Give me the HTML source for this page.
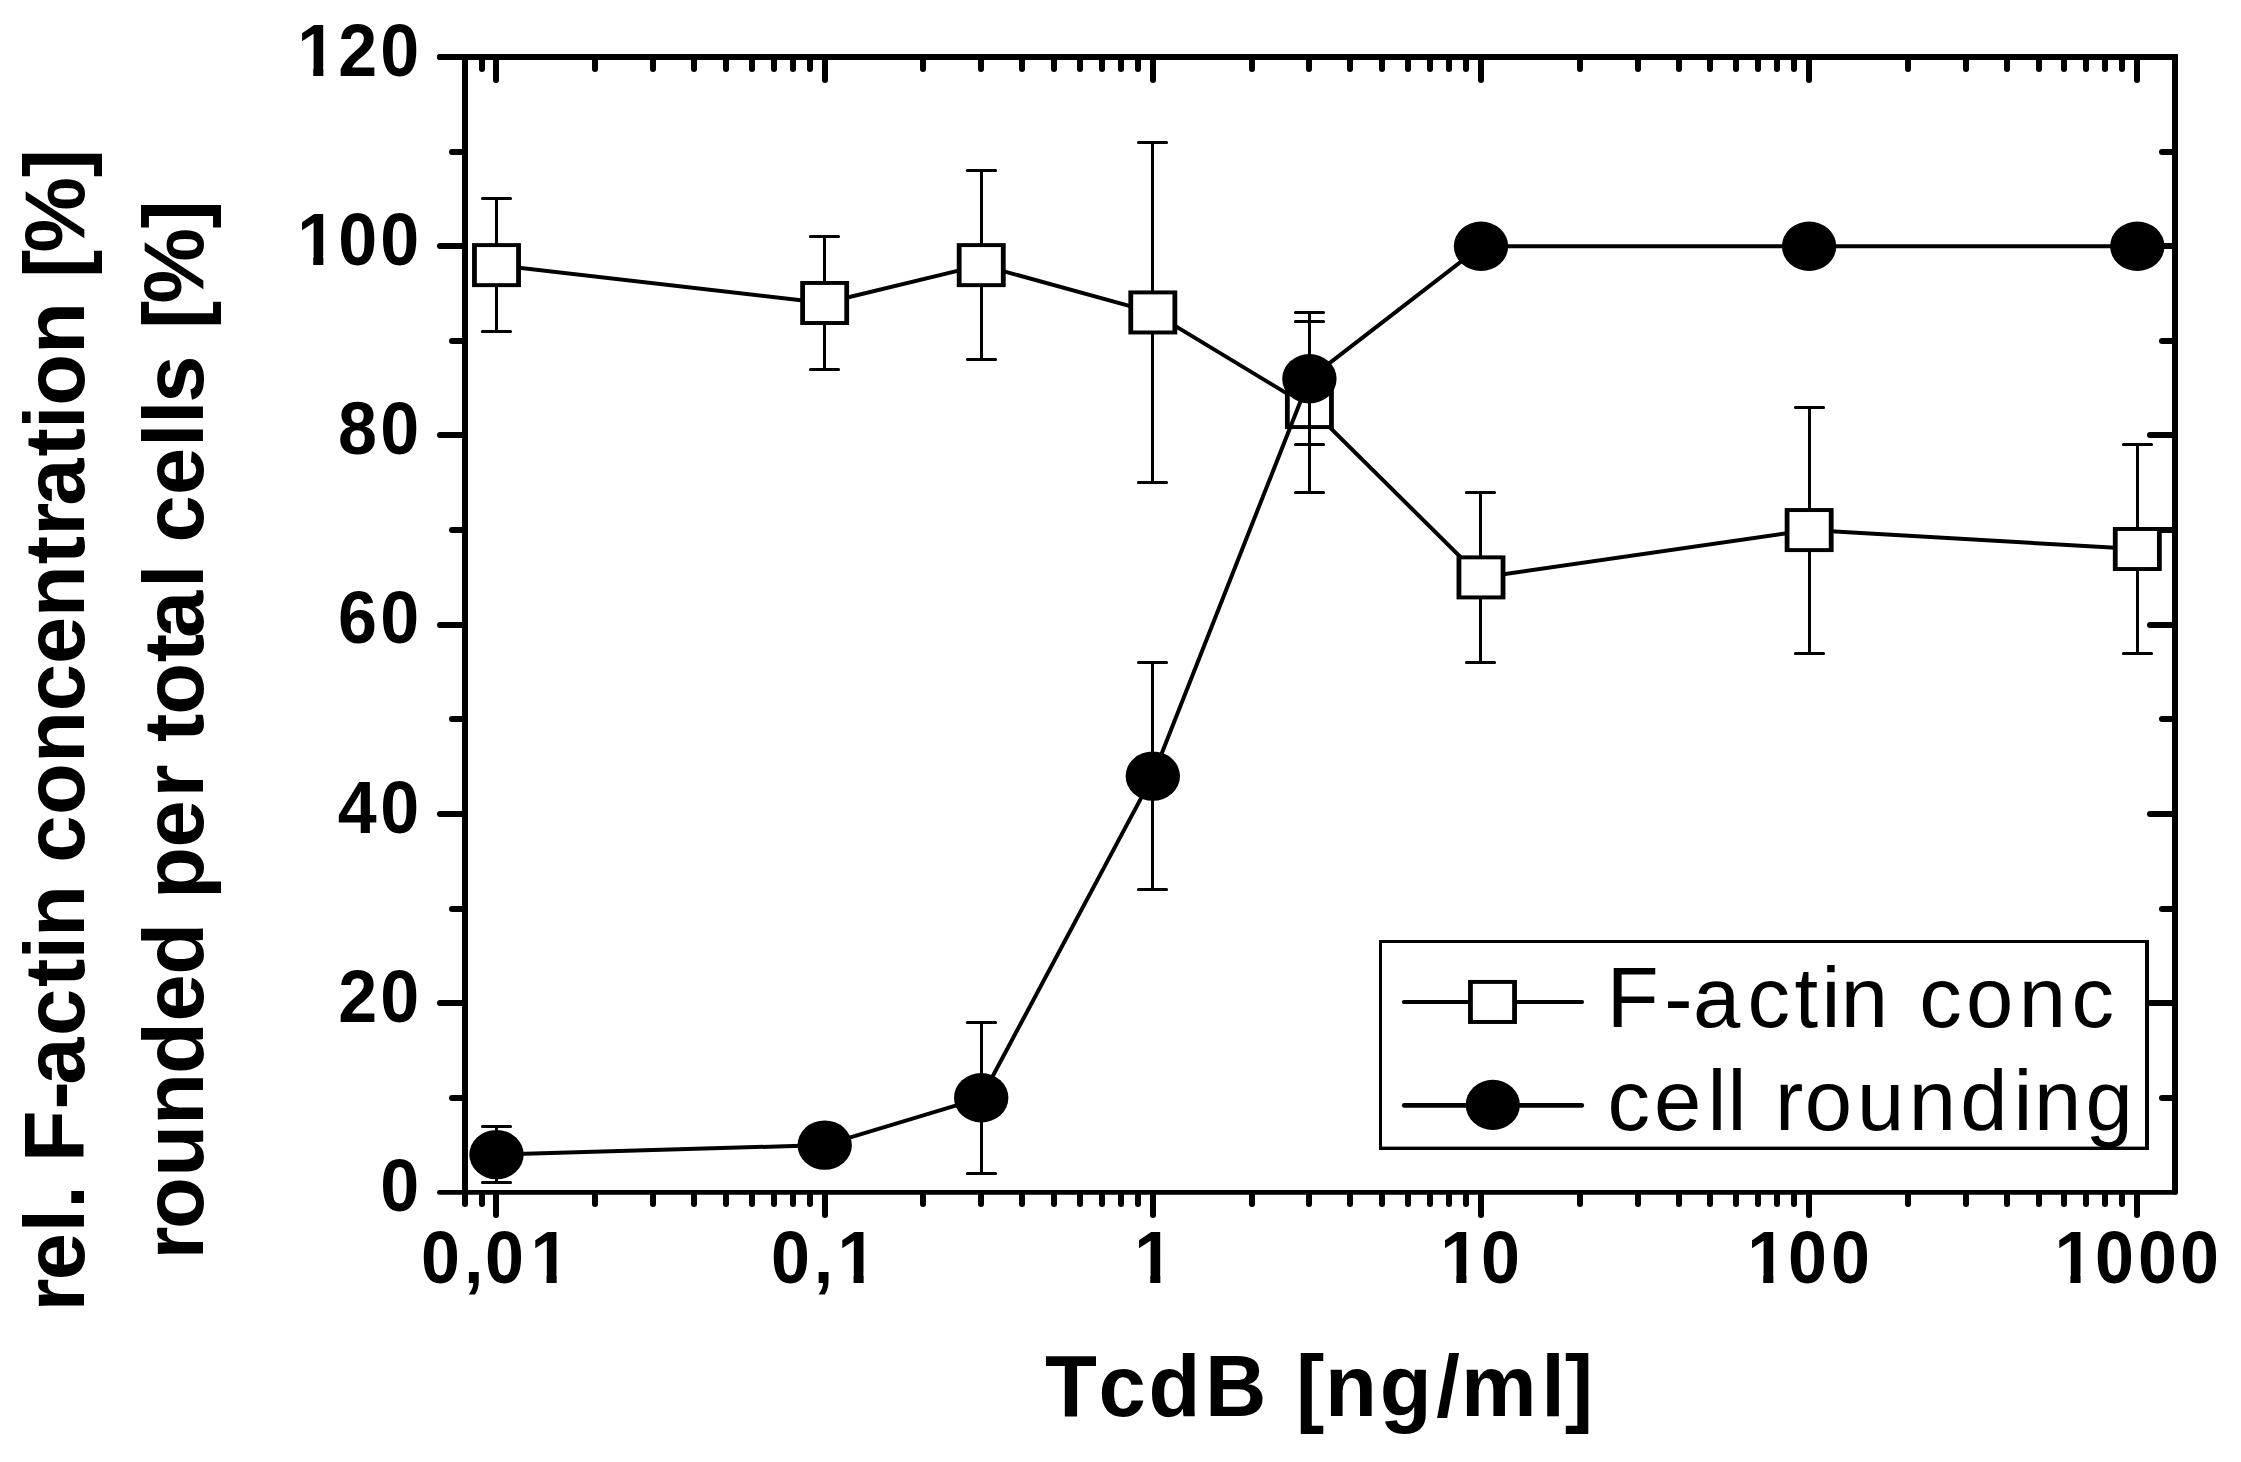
<!DOCTYPE html>
<html><head><meta charset="utf-8"><title>TcdB F-actin</title>
<style>html,body{margin:0;padding:0;background:#fff}svg{display:block}text{font-family:"Liberation Sans",Arial,sans-serif;fill:#000;white-space:pre}.tk{font-size:70px;font-weight:bold}.ti{font-size:85px;font-weight:bold}.lg{font-size:85px}</style></head><body>
<svg width="2241" height="1462" viewBox="0 0 2241 1462">
<rect width="2241" height="1462" fill="#fff"/>
<g stroke="#000" stroke-width="6" stroke-linecap="round" fill="none">
<path d="M440 57H2175V1191.85M465 57V1192.45"/><path stroke-width="4.8" d="M439.4 1192.45H2175.6"/>
<path d="M452 1098H465M2162 1098H2175M440 1003H465M2150 1003H2175M452 909H465M2162 909H2175M440 814H465M2150 814H2175M452 719H465M2162 719H2175M440 625H465M2150 625H2175M452 530H465M2162 530H2175M440 435H465M2150 435H2175M452 341H465M2162 341H2175M440 246H465M2150 246H2175M452 152H465M2162 152H2175M440 57H465"/>
<path d="M465 1194V1204M482 57V69M482 1194V1204M496 57V80M496 1194V1215M595 57V69M595 1194V1204M653 57V69M653 1194V1204M694 57V69M694 1194V1204M726 57V69M726 1194V1204M752 57V69M752 1194V1204M774 57V69M774 1194V1204M793 57V69M793 1194V1204M810 57V69M810 1194V1204M825 57V80M825 1194V1215M923 57V69M923 1194V1204M981 57V69M981 1194V1204M1022 57V69M1022 1194V1204M1054 57V69M1054 1194V1204M1080 57V69M1080 1194V1204M1102 57V69M1102 1194V1204M1121 57V69M1121 1194V1204M1138 57V69M1138 1194V1204M1153 57V80M1153 1194V1215M1252 57V69M1252 1194V1204M1309 57V69M1309 1194V1204M1350 57V69M1350 1194V1204M1382 57V69M1382 1194V1204M1408 57V69M1408 1194V1204M1430 57V69M1430 1194V1204M1449 57V69M1449 1194V1204M1466 57V69M1466 1194V1204M1481 57V80M1481 1194V1215M1580 57V69M1580 1194V1204M1638 57V69M1638 1194V1204M1679 57V69M1679 1194V1204M1710 57V69M1710 1194V1204M1736 57V69M1736 1194V1204M1758 57V69M1758 1194V1204M1777 57V69M1777 1194V1204M1794 57V69M1794 1194V1204M1809 57V80M1809 1194V1215M1908 57V69M1908 1194V1204M1966 57V69M1966 1194V1204M2007 57V69M2007 1194V1204M2039 57V69M2039 1194V1204M2064 57V69M2064 1194V1204M2086 57V69M2086 1194V1204M2105 57V69M2105 1194V1204M2122 57V69M2122 1194V1204M2137 57V80M2137 1194V1215"/>
</g>
<g stroke="#000" stroke-width="3" stroke-linecap="round" fill="none">
<path d="M496.5 198.5V331.5M482.4 198.5H510.6M482.4 331.5H510.6"/>
<path d="M824.5 236.5V369.5M810.4 236.5H838.6M810.4 369.5H838.6"/>
<path d="M981.5 170.5V359.5M967.4 170.5H995.6M967.4 359.5H995.6"/>
<path d="M1152.5 142.5V482.5M1138.4 142.5H1166.6M1138.4 482.5H1166.6"/>
<path d="M1309.5 321.5V492.5M1295.4 321.5H1323.6M1295.4 492.5H1323.6"/>
<path d="M1480.5 492.5V662.5M1466.4 492.5H1494.6M1466.4 662.5H1494.6"/>
<path d="M1809.5 407.5V653.5M1795.4 407.5H1823.6M1795.4 653.5H1823.6"/>
<path d="M2137.5 444.5V653.5M2123.4 444.5H2151.6M2123.4 653.5H2151.6"/>
</g>
<polyline points="496.5,265.1 824.7,303.0 981.2,265.1 1152.8,312.4 1309.4,407.1 1481.0,577.4 1809.1,530.1 2137.3,549.0" fill="none" stroke="#000" stroke-width="4" stroke-linejoin="round"/>
<rect x="472.05" y="243.12" width="48.9" height="44" fill="#000"/><rect x="476.85" y="247.07" width="39.3" height="36.1" fill="#fff"/>
<rect x="800.21" y="280.98" width="48.9" height="44" fill="#000"/><rect x="805.01" y="284.93" width="39.3" height="36.1" fill="#fff"/>
<rect x="956.78" y="243.12" width="48.9" height="44" fill="#000"/><rect x="961.58" y="247.07" width="39.3" height="36.1" fill="#fff"/>
<rect x="1128.37" y="290.44" width="48.9" height="44" fill="#000"/><rect x="1133.17" y="294.39" width="39.3" height="36.1" fill="#fff"/>
<rect x="1284.94" y="385.06" width="48.9" height="44" fill="#000"/><rect x="1289.74" y="389.01" width="39.3" height="36.1" fill="#fff"/>
<rect x="1456.53" y="555.39" width="48.9" height="44" fill="#000"/><rect x="1461.33" y="559.34" width="39.3" height="36.1" fill="#fff"/>
<rect x="1784.69" y="508.08" width="48.9" height="44" fill="#000"/><rect x="1789.49" y="512.03" width="39.3" height="36.1" fill="#fff"/>
<rect x="2112.85" y="527.00" width="48.9" height="44" fill="#000"/><rect x="2117.65" y="530.95" width="39.3" height="36.1" fill="#fff"/>
<polyline points="496.5,1154.6 824.7,1145.1 981.2,1097.8 1152.8,776.1 1309.4,378.7 1481.0,246.2 1809.1,246.2 2137.3,246.2" fill="none" stroke="#000" stroke-width="4" stroke-linejoin="round"/>
<g stroke="#000" stroke-width="3" stroke-linecap="round" fill="none">
<path d="M496.5 1126.5V1182.5M482.4 1126.5H510.6M482.4 1182.5H510.6"/>
<path d="M981.5 1022.5V1173.5M967.4 1022.5H995.6M967.4 1173.5H995.6"/>
<path d="M1152.5 662.5V889.5M1138.4 662.5H1166.6M1138.4 889.5H1166.6"/>
<path d="M1309.5 312.5V444.5M1295.4 312.5H1323.6M1295.4 444.5H1323.6"/>
</g>
<g fill="#000">
<ellipse cx="496.5" cy="1154.6" rx="27.2" ry="24.7"/>
<ellipse cx="824.7" cy="1145.1" rx="27.2" ry="24.7"/>
<ellipse cx="981.2" cy="1097.8" rx="27.2" ry="24.7"/>
<ellipse cx="1152.8" cy="776.1" rx="27.2" ry="24.7"/>
<ellipse cx="1309.4" cy="378.7" rx="27.2" ry="24.7"/>
<ellipse cx="1481.0" cy="246.2" rx="27.2" ry="24.7"/>
<ellipse cx="1809.1" cy="246.2" rx="27.2" ry="24.7"/>
<ellipse cx="2137.3" cy="246.2" rx="27.2" ry="24.7"/>
</g>
<g transform="translate(0 1211.0) scale(1 1.05)"><text class="tk" x="380.2" y="0">0</text></g>
<g transform="translate(0 1021.7) scale(1 1.05)"><text class="tk" x="338.3 380.2" y="0">20</text></g>
<g transform="translate(0 832.5) scale(1 1.05)"><text class="tk" x="337.8 380.2" y="0">40</text></g>
<g transform="translate(0 643.2) scale(1 1.05)"><text class="tk" x="338.1 380.2" y="0">60</text></g>
<g transform="translate(0 454.0) scale(1 1.05)"><text class="tk" x="338.1 380.2" y="0">80</text></g>
<g transform="translate(0 264.7) scale(1 1.05)"><text class="tk" x="297.2 338.2 380.2" y="0">100</text><rect x="300.58" y="-8.54" width="12.67" height="9.34" fill="#fff"/><rect x="323.35" y="-8.54" width="12.00" height="9.34" fill="#fff"/></g>
<g transform="translate(0 75.5) scale(1 1.05)"><text class="tk" x="297.2 338.3 380.2" y="0">120</text><rect x="300.58" y="-8.54" width="12.67" height="9.34" fill="#fff"/><rect x="323.35" y="-8.54" width="12.00" height="9.34" fill="#fff"/></g>
<g transform="translate(0 1283) scale(1 1.05)"><text class="tk" x="421.0 463.9 485.1 530.5" y="0">0,01</text><rect x="533.88" y="-8.54" width="12.67" height="9.34" fill="#fff"/><rect x="556.65" y="-8.54" width="12.00" height="9.34" fill="#fff"/></g>
<g transform="translate(0 1283) scale(1 1.05)"><text class="tk" x="771.0 813.7 837.5" y="0">0,1</text><rect x="840.88" y="-8.54" width="12.67" height="9.34" fill="#fff"/><rect x="863.65" y="-8.54" width="12.00" height="9.34" fill="#fff"/></g>
<g transform="translate(0 1283) scale(1 1.05)"><text class="tk" x="1134.2" y="0">1</text><rect x="1137.58" y="-8.54" width="12.67" height="9.34" fill="#fff"/><rect x="1160.35" y="-8.54" width="12.00" height="9.34" fill="#fff"/></g>
<g transform="translate(0 1283) scale(1 1.05)"><text class="tk" x="1440.3 1481.0" y="0">10</text><rect x="1443.68" y="-8.54" width="12.67" height="9.34" fill="#fff"/><rect x="1466.45" y="-8.54" width="12.00" height="9.34" fill="#fff"/></g>
<g transform="translate(0 1283) scale(1 1.05)"><text class="tk" x="1747.2 1788.1 1831.0" y="0">100</text><rect x="1750.58" y="-8.54" width="12.67" height="9.34" fill="#fff"/><rect x="1773.35" y="-8.54" width="12.00" height="9.34" fill="#fff"/></g>
<g transform="translate(0 1283) scale(1 1.05)"><text class="tk" x="2054.4 2095.1 2138.0 2179.9" y="0">1000</text><rect x="2057.78" y="-8.54" width="12.67" height="9.34" fill="#fff"/><rect x="2080.55" y="-8.54" width="12.00" height="9.34" fill="#fff"/></g>
<g transform="translate(0 1416) scale(1 1.02)"><text class="ti" x="1045.0 1098.4 1148.5 1204.9 1266.3 1296.1 1324.9 1379.8 1436.2 1461.1 1541.3 1564.8" y="0">TcdB [ng/ml]</text></g>
<text class="ti" transform="translate(83.7 0) rotate(-90)" x="-1311.5 -1280.2 -1232.4 -1208.8 -1185.2 -1162.2 -1109.6 -1084.7 -1035.9 -987.1 -959.6 -937.0 -885.1 -862.7 -815.0 -763.0 -711.3 -664.1 -617.3 -564.3 -535.8 -505.7 -456.5 -428.9 -405.8 -353.9 -302.0 -277.9 -252.4 -177.2" y="0">rel. F-actin concentration [%]</text>
<text class="ti" transform="translate(203 0) rotate(-90)" x="-1259.6 -1228.9 -1176.8 -1124.9 -1074.0 -1021.5 -974.8 -922.8 -898.9 -847.5 -797.4 -764.4 -742.1 -714.8 -662.3 -637.9 -588.0 -564.4 -542.6 -495.1 -446.9 -423.9 -402.7 -355.4 -328.9 -303.6 -228.5" y="0">rounded per total cells [%]</text>
<rect x="1379" y="940" width="770" height="210" fill="#000"/><rect x="1382" y="943" width="763" height="203.6" fill="#fff"/>
<g stroke="#000" stroke-linecap="round"><path stroke-width="4" d="M1403.9 1002H1582.1"/><path stroke-width="4.6" d="M1404.2 1105.4H1581.8"/></g>
<rect x="1468.05" y="979.95" width="48.9" height="44" fill="#000"/><rect x="1472.85" y="983.90" width="39.3" height="36.1" fill="#fff"/>
<ellipse cx="1492.8" cy="1104.85" rx="27.1" ry="25.05"/>
<text class="lg" x="1606.8 1664.2 1693.0 1747.5 1794.6 1821.5 1840.7 1888.0 1919.3 1965.9 2018.8 2071.5" y="1027">F-actin conc</text>
<text class="lg" x="1607.6 1654.0 1707.6 1727.5 1746.4 1775.1 1804.8 1856.9 1908.8 1960.2 2013.5 2034.0 2085.4" y="1130.2">cell rounding</text>
</svg></body></html>
